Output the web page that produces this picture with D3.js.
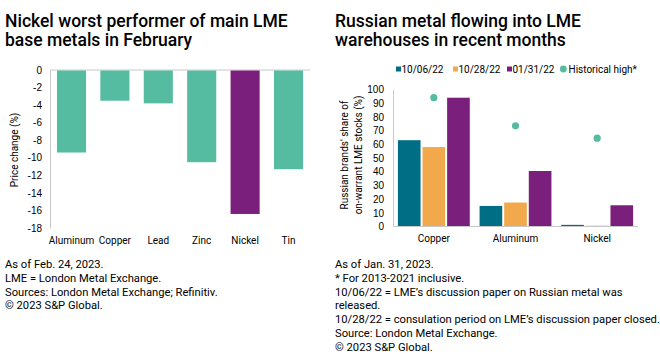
<!DOCTYPE html>
<html>
<head>
<meta charset="utf-8">
<script src="https://cdn.jsdelivr.net/npm/d3@7"></script>
<style>
  body { margin: 0; background: #fff; }
  svg { font-family: Roboto, "Liberation Sans", sans-serif; }
  .title { font-size: 17.5px; font-weight: 500; fill: #000; }
  .note { font-size: 11.2px; fill: #000; }
  .tick text { font-size: 10px; fill: #000; }
  .label { font-size: 10px; fill: #000; }
</style>
</head>
<body>
<svg width="660" height="361"></svg>
<script>
// left chart: price change in February
const metals = ["Aluminum", "Copper", "Lead", "Zinc", "Nickel", "Tin"];
const priceChange = [-9.4, -3.5, -3.8, -10.5, -16.4, -11.3];
const priceTicks = [0, -2, -4, -6, -8, -10, -12, -14, -16, -18];

// right chart: Russian share of on-warrant stocks
const stockMetals = ["Copper", "Aluminum", "Nickel"];
const seriesNames = ["10/06/22", "10/28/22", "01/31/22"];
const share1006 = [63, 15, 1.2];
const share1028 = [58, 17.5, 0.6];
const share0131 = [94, 40.5, 15.5];
const historicalHigh = [94, 73.5, 64.5];
const shareTicks = [0, 10, 20, 30, 40, 50, 60, 70, 80, 90, 100];

const leftNotes = [
  "As of Feb. 24, 2023.",
  "LME = London Metal Exchange.",
  "Sources: London Metal Exchange; Refinitiv.",
  "\u00a9 2023 S&P Global."
];
const rightNotes = [
  "As of Jan. 31, 2023.",
  "* For 2013-2021 inclusive.",
  "10/06/22 = LME\u2019s discussion paper on Russian metal was",
  "released.",
  "10/28/22 = consulation period on LME\u2019s discussion paper closed.",
  "Source: London Metal Exchange.",
  "\u00a9 2023 S&P Global."
];

const teal = "#55bca2";
const purple = "#7a1f7c";
const seriesColors = ["#006e85", "#f2a94b", purple];
const gridGray = "#c8c8c8";

const svg = d3.select("svg");

// titles
function title(x, lines) {
  const t = svg.append("text").attr("class", "title");
  lines.forEach((l, i) => {
    t.append("tspan").attr("x", x).attr("y", 27 + i * 19).text(l);
  });
}
title(5, ["Nickel worst performer of main LME", "base metals in February"]);
title(335, ["Russian metal flowing into LME", "warehouses in recent months"]);

function notes(x, lines) {
  svg.selectAll(null)
    .data(lines)
    .enter()
    .append("text")
    .attr("class", "note")
    .attr("x", x)
    .attr("y", (d, i) => 268 + i * 13.8)
    .text(d => d);
}
notes(5, leftNotes);
notes(335, rightNotes);

// ---- left chart
const L = { left: 50, right: 310, top: 70, bottom: 228 };

const xL = d3.scaleBand()
  .domain(metals)
  .range([L.left, L.right])
  .paddingInner(0.33)
  .paddingOuter(0.16);

const yL = d3.scaleLinear()
  .domain([-18, 0])
  .range([L.bottom, L.top]);

const leftAxis = svg.append("g")
  .attr("transform", `translate(${L.left},0)`)
  .call(d3.axisLeft(yL).tickValues(priceTicks).tickSize(0).tickPadding(8).tickFormat(d => d === 0 ? "0" : d3.format("d")(d).replace("\u2212", "-")));
leftAxis.select(".domain").attr("stroke", gridGray);

svg.append("line")
  .attr("x1", L.left).attr("x2", L.right)
  .attr("y1", yL(0)).attr("y2", yL(0))
  .attr("stroke", gridGray);

svg.selectAll(null)
  .data(metals)
  .enter()
  .append("rect")
  .attr("x", d => xL(d))
  .attr("y", yL(0) + 0.5)
  .attr("width", xL.bandwidth())
  .attr("height", (d, i) => yL(priceChange[i]) - yL(0) - 0.5)
  .attr("fill", d => d === "Nickel" ? purple : teal);

svg.selectAll(null)
  .data(metals)
  .enter()
  .append("text")
  .attr("class", "label")
  .attr("x", d => xL(d) + xL.bandwidth() / 2)
  .attr("y", 244)
  .attr("text-anchor", "middle")
  .text(d => d);

svg.append("text")
  .attr("class", "label")
  .attr("transform", "translate(18,150) rotate(-90)")
  .attr("text-anchor", "middle")
  .text("Price change (%)");

// ---- right chart
const R = { left: 393, right: 638, top: 89.5, bottom: 226.5 };

const xR = d3.scaleBand()
  .domain(stockMetals)
  .range([R.left, R.right])
  .paddingInner(0.12)
  .paddingOuter(0.06);

const xSub = d3.scaleBand()
  .domain(seriesNames)
  .range([0, xR.bandwidth()])
  .paddingInner(0.08);

const yR = d3.scaleLinear()
  .domain([0, 100])
  .range([R.bottom, R.top]);

const rightAxis = svg.append("g")
  .attr("transform", `translate(${R.left},0)`)
  .call(d3.axisLeft(yR).tickValues(shareTicks).tickSize(0).tickPadding(9));
rightAxis.select(".domain").attr("stroke", gridGray);

const seriesValues = [share1006, share1028, share0131];

seriesNames.forEach((s, k) => {
  svg.selectAll(null)
    .data(stockMetals)
    .enter()
    .append("rect")
    .attr("x", d => xR(d) + xSub(s))
    .attr("y", (d, i) => yR(seriesValues[k][i]))
    .attr("width", xSub.bandwidth())
    .attr("height", (d, i) => yR(0) - yR(seriesValues[k][i]))
    .attr("fill", seriesColors[k]);
});

svg.append("line")
  .attr("x1", R.left).attr("x2", R.right)
  .attr("y1", yR(0)).attr("y2", yR(0))
  .attr("stroke", gridGray);

svg.selectAll(null)
  .data(stockMetals)
  .enter()
  .append("circle")
  .attr("cx", d => xR(d) + xR.bandwidth() / 2)
  .attr("cy", (d, i) => yR(historicalHigh[i]))
  .attr("r", 3.6)
  .attr("fill", teal);

svg.selectAll(null)
  .data(stockMetals)
  .enter()
  .append("text")
  .attr("class", "label")
  .attr("x", d => xR(d) + xR.bandwidth() / 2)
  .attr("y", 242)
  .attr("text-anchor", "middle")
  .text(d => d);

svg.append("text")
  .attr("class", "label")
  .attr("transform", "translate(348,155) rotate(-90)")
  .attr("text-anchor", "middle")
  .text("Russian brands' share of");
svg.append("text")
  .attr("class", "label")
  .attr("transform", "translate(362,155) rotate(-90)")
  .attr("text-anchor", "middle")
  .text("on-warrant LME stocks (%)");

// legend
const legendX = [396, 453, 507];
seriesNames.forEach((s, k) => {
  svg.append("rect")
    .attr("x", legendX[k]).attr("y", 66.5)
    .attr("width", 5).attr("height", 5)
    .attr("fill", seriesColors[k]);
  svg.append("text")
    .attr("class", "label")
    .attr("x", legendX[k] + 5.5).attr("y", 73)
    .text(s);
});
svg.append("circle")
  .attr("cx", 563.3).attr("cy", 69)
  .attr("r", 3.4)
  .attr("fill", teal);
svg.append("text")
  .attr("class", "label")
  .attr("x", 568.5).attr("y", 73)
  .text("Historical high*");
</script>
</body>
</html>
